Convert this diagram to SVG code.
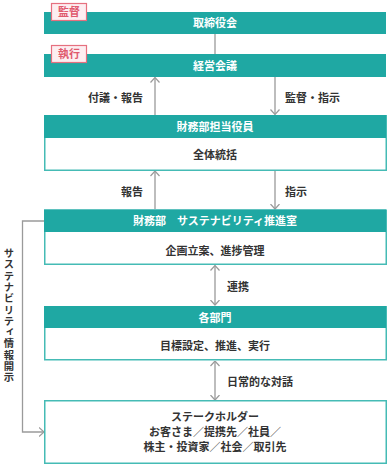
<svg xmlns="http://www.w3.org/2000/svg" width="388" height="468" viewBox="0 0 388 468">
<style>
text{font-family:"Noto Sans CJK JP","Noto Sans",sans-serif;font-size:11px;fill:#333;}
.hd{fill:#1fa8a3;}
.hdt{fill:#fff;font-weight:700;text-anchor:middle;}
.box{fill:#fff;stroke:#45bbb5;stroke-width:1.5;}
.bt{text-anchor:middle;font-weight:700;}
.tag{fill:#fdeef1;stroke:#e6707f;stroke-width:1.2;}
.tagt{fill:#e05a6e;font-weight:700;text-anchor:middle;}
.ln{fill:none;stroke:#9a9a9a;stroke-width:1.3;}
.lbl{font-weight:700;}
.vt{font-weight:700;font-size:10.3px;letter-spacing:1px;writing-mode:vertical-rl;text-orientation:upright;}
</style>
<defs>
<marker id="ah" viewBox="0 0 6 10" refX="5.5" refY="5" markerWidth="6" markerHeight="10" markerUnits="userSpaceOnUse" orient="auto-start-reverse">
<path d="M0.5,0.5 L5.5,5 L0.5,9.5" fill="none" stroke="#9a9a9a" stroke-width="1.2"/>
</marker>
</defs>
<g id="connectors">
<line class="ln" x1="215" y1="34" x2="215" y2="54"/>
<line class="ln" x1="155" y1="115" x2="155" y2="77.5" marker-end="url(#ah)"/>
<line class="ln" x1="275" y1="77" x2="275" y2="114.5" marker-end="url(#ah)"/>
<line class="ln" x1="155" y1="209" x2="155" y2="171" marker-end="url(#ah)"/>
<line class="ln" x1="275" y1="171" x2="275" y2="209" marker-end="url(#ah)"/>
<line class="ln" x1="215" y1="265.5" x2="215" y2="305" marker-start="url(#ah)" marker-end="url(#ah)"/>
<line class="ln" x1="215" y1="361" x2="215" y2="400" marker-start="url(#ah)" marker-end="url(#ah)"/>
<polyline class="ln" points="44,221 22.5,221 22.5,432 44,432" marker-end="url(#ah)"/>
<text class="lbl" x="143" y="102" text-anchor="end">付議・報告</text>
<text class="lbl" x="285" y="102">監督・指示</text>
<text class="lbl" x="143" y="196" text-anchor="end">報告</text>
<text class="lbl" x="285" y="196">指示</text>
<text class="lbl" x="227" y="291">連携</text>
<text class="lbl" x="227" y="385.5">日常的な対話</text>
<text class="vt" x="9" y="248">サステナビリティ情報開示</text>
</g>
<g id="board">
<rect class="hd" x="44" y="12" width="342" height="22"/>
<text class="hdt" x="215" y="27">取締役会</text>
<rect class="tag" x="51.5" y="3.5" width="35" height="17"/>
<text class="tagt" x="69" y="16">監督</text>
</g>
<g id="mgmt">
<rect class="hd" x="44" y="54" width="342" height="23"/>
<text class="hdt" x="215" y="69.5">経営会議</text>
<rect class="tag" x="51.5" y="45.5" width="35" height="17"/>
<text class="tagt" x="69" y="58">執行</text>
</g>
<g id="cfo">
<rect class="box" x="44.75" y="115.75" width="341.5" height="54.5"/>
<rect class="hd" x="44" y="115" width="342" height="23"/>
<text class="hdt" x="215" y="130.5">財務部担当役員</text>
<text class="bt" x="215" y="159">全体統括</text>
</g>
<g id="sustain">
<rect class="box" x="44.75" y="210.25" width="341.5" height="54"/>
<rect class="hd" x="44" y="209.5" width="342" height="22.5"/>
<text class="hdt" x="215" y="224.5">財務部　サステナビリティ推進室</text>
<text class="bt" x="215" y="254.7">企画立案、進捗管理</text>
</g>
<g id="depts">
<rect class="box" x="44.75" y="306.75" width="341.5" height="53"/>
<rect class="hd" x="44" y="306" width="342" height="22"/>
<text class="hdt" x="215" y="322">各部門</text>
<text class="bt" x="215" y="350">目標設定、推進、実行</text>
</g>
<g id="stakeholders">
<rect class="box" x="44.75" y="400.75" width="341.5" height="62.5"/>
<text class="bt" x="215" y="421">ステークホルダー</text>
<text class="bt" x="215" y="436">お客さま／提携先／社員／</text>
<text class="bt" x="215" y="451">株主・投資家／社会／取引先</text>
</g>
</svg>
